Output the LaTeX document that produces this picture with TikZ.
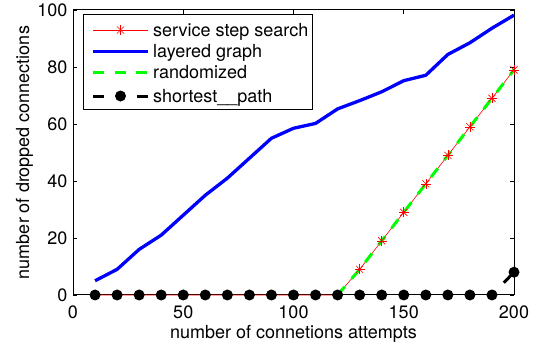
\documentclass[tikz,border=0pt]{standalone}
\usepackage{fontspec}
\setmainfont{TeX Gyre Heros}
\usetikzlibrary{calc}
\newcommand{\myStar}[1]{
\foreach \ang in {0,45,90,135}
	\draw[stepsearch] (#1) ++(\ang:5bp) -- ++(\ang+180:10bp);
}
\newcommand{\myDot}[1]{
\fill[black] (#1) circle (5.5bp);
}
\tikzset{
	frameline/.style={line width=1bp},
	tickline/.style={line width=.8bp},
	ticklabel/.style={inner sep=0pt},
	legtext/.style={inner sep=0pt, anchor=base west, yshift=-6bp},
	stepsearch/.style={red, line width=.6bp},
	layered/.style={blue, line width=3.3bp, line join=round},
	randomized/.style={green, line width=3bp, dash pattern=on 11bp off 10.5bp},
	shortest/.style={black, line width=3bp, dash pattern=on 10bp off 12.05bp, dash phase=5bp},
}

\begin{document}
\begin{tikzpicture}[x=2.205bp, y=2.85bp, font=\fontsize{18bp}{21bp}\selectfont]
	\useasboundingbox (-33.107,-17.544) rectangle (210.43,103.51);
	% axes box and ticks
	\draw[frameline] (0,0) rectangle (200,100);
	\foreach \x in {0,50,...,200} {
		\draw[tickline] (\x,0) -- ++(0,4bp);
		\draw[tickline] (\x,100) -- ++(0,-4bp);
		\node[ticklabel, anchor=north] (xt\x) at ([yshift=-10.5bp]\x,0) {\x};
	}
	\foreach \y in {0,20,...,100} {
		\draw[tickline] (0,\y) -- ++(4bp,0);
		\draw[tickline] (200,\y) -- ++(-4bp,0);
		\node[ticklabel, anchor=east] (yt\y) at ([xshift=-5.5bp]0,\y) {\y};
	}
	\node[anchor=base] (xlab) at ([yshift=-43bp]100,0) {number of connetions attempts};
	\node[anchor=base, rotate=90] (ylab) at (-19.95,50) {number of dropped connections};

	% curves
	\draw[stepsearch] plot coordinates {(10,0) (20,0) (30,0) (40,0) (50,0) (60,0) (70,0) (80,0) (90,0) (100,0) (110,0) (120,0) (130,9) (140,19) (150,29) (160,39) (170,49) (180,59) (190,69) (200,79)};
	\begin{scope}
		\clip (0,0) rectangle (200,100);
		\draw[layered] plot coordinates {(10,5) (20,9) (30,16) (40,21) (50,28) (60,35) (70,41) (80,48) (90,55) (100,58.5) (110,60.2) (120,65.3) (130,68.2) (140,71.3) (150,75.2) (160,77.1) (170,84.4) (180,88.5) (190,93.6) (200,98.2)};
		\draw[randomized] plot coordinates {(120,0) (130,9) (140,19) (150,29) (160,39) (170,49) (180,59) (190,69) (200,79)};
		\draw[shortest] plot coordinates {(10,0) (20,0) (30,0) (40,0) (50,0) (60,0) (70,0) (80,0) (90,0) (100,0) (110,0) (120,0) (130,0) (140,0) (150,0) (160,0) (170,0) (180,0) (190,0) (200,8)};
	\end{scope}
	\foreach \x/\y in {10/0,20/0,30/0,40/0,50/0,60/0,70/0,80/0,90/0,100/0,110/0,120/0,130/9,140/19,150/29,160/39,170/49,180/59,190/69,200/79}
		\myStar{\x,\y};
	\foreach \x in {10,20,...,190}
		\myDot{\x,0};
	\myDot{200,8}

	% legend
	\draw[frameline, fill=white] (4.535,65.26) rectangle (108.39,98.25);
	\coordinate (s1) at (9.07,92.98);  \coordinate (e1) at (34.01,92.98);
	\coordinate (s2) at (9.07,85.37);  \coordinate (e2) at (34.01,85.37);
	\coordinate (s3) at (9.07,77.99);  \coordinate (e3) at (34.01,77.99);
	\coordinate (s4) at (9.07,69.82);  \coordinate (e4) at (34.01,69.82);
	\draw[stepsearch] (s1) -- (e1);
	\myStar{$(s1)!.5!(e1)$}
	\draw[layered] (s2) -- (e2);
	\draw[randomized] (s3) -- (e3);
	\draw[black, line width=3bp, dash pattern=on 11bp off 33bp] (s4) -- (e4);
	\myDot{$(s4)!.5!(e4)$}
	\node[legtext] (l1) at (36.28,92.98) {service step search};
	\node[legtext] (l2) at (36.28,85.37) {layered graph};
	\node[legtext] (l3) at (36.28,77.99) {randomized};
	\node[legtext] (l4) at (36.28,69.82) {shortest\_\_path};
\end{tikzpicture}
\end{document}
